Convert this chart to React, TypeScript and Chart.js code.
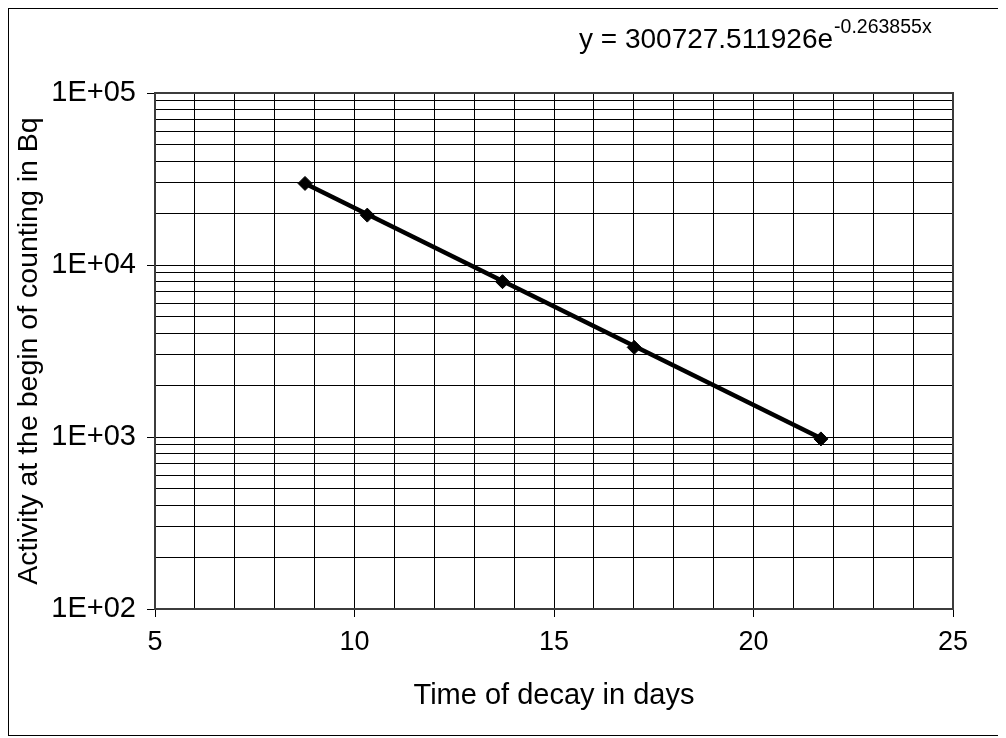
import React, { useEffect, useRef } from "react";
import { Chart, registerables } from "chart.js";

Chart.register(...registerables);

// ---- data ----
const decayDays = [8.76, 10.32, 13.71, 17.01, 21.69];
const activityBq = [29800, 19500, 8000, 3320, 975];

// trendline end points (exponential fit shown on the chart)
const trendDays = [8.76, 21.69];
const trendBq = [29810, 984];

// axes
const xMin = 5;
const xMax = 25;
const xGridValues = [5, 6, 7, 8, 9, 10, 11, 12, 13, 14, 15, 16, 17, 18, 19, 20, 21, 22, 23, 24, 25];
const xLabelValues = [5, 10, 15, 20, 25];
const yDecades = [100, 1000, 10000, 100000];
const yDecadeLabels = ["1E+02", "1E+03", "1E+04", "1E+05"];
const yMultipliers = [1, 2, 3, 4, 5, 6, 7, 8, 9];

// texts
const xTitle = "Time of decay in days";
const yTitle = "Activity at the begin of counting in Bq";
const equationMain = "y = 300727.511926e";
const equationExp = "-0.263855x";

const FONT = 'Arial, "Liberation Sans", sans-serif';

function buildYTicks() {
  const out: { value: number; major: boolean }[] = [];
  for (let d = 0; d < yDecades.length; d++) {
    for (const m of yMultipliers) {
      const v = yDecades[d] * m;
      if (v > yDecades[yDecades.length - 1]) break;
      out.push({ value: v, major: m === 1 });
    }
  }
  return out;
}

const framePlugin = {
  id: "frame",
  beforeDatasetsDraw(chart: any) {
    const { ctx, chartArea } = chart;
    ctx.save();
    ctx.strokeStyle = "#3c3c3c";
    ctx.lineWidth = 2;
    ctx.strokeRect(chartArea.left, chartArea.top, chartArea.right - chartArea.left, chartArea.bottom - chartArea.top);
    ctx.restore();
  },
};

const equationPlugin = {
  id: "equation",
  afterDraw(chart: any) {
    const { ctx } = chart;
    ctx.save();
    ctx.fillStyle = "#000";
    ctx.textBaseline = "alphabetic";
    ctx.textAlign = "left";
    ctx.font = `28px ${FONT}`;
    const x0 = 570;
    const y0 = 39;
    ctx.fillText(equationMain, x0, y0);
    const w = ctx.measureText(equationMain).width;
    ctx.font = `19.5px ${FONT}`;
    ctx.fillText(equationExp, x0 + w + 1, y0 - 15);
    ctx.restore();
  },
};

export default function App() {
  const canvasRef = useRef<HTMLCanvasElement | null>(null);

  useEffect(() => {
    if (!canvasRef.current) return;
    const yTicks = buildYTicks();
    const chart = new Chart(canvasRef.current, {
      type: "scatter",
      data: {
        datasets: [
          {
            type: "scatter",
            label: "Activity",
            data: decayDays.map((x, i) => ({ x, y: activityBq[i] })),
            pointStyle: "rectRot",
            pointRadius: 7,
            pointBackgroundColor: "#000",
            pointBorderColor: "#000",
            showLine: false,
            order: 0,
          },
          {
            type: "line",
            label: "Trend",
            data: trendDays.map((x, i) => ({ x, y: trendBq[i] })),
            borderColor: "#000",
            borderWidth: 4.5,
            pointRadius: 0,
            fill: false,
            order: 1,
          } as any,
        ],
      },
      options: {
        animation: false,
        responsive: true,
        maintainAspectRatio: false,
        layout: { padding: { left: 0, top: 84, right: 50, bottom: 0 } },
        plugins: {
          legend: { display: false },
          tooltip: { enabled: false },
        },
        scales: {
          x: {
            type: "linear",
            min: xMin,
            max: xMax,
            afterFit: (scale: any) => {
              scale.height = 126;
            },
            afterBuildTicks: (scale: any) => {
              scale.ticks = xGridValues.map((v) => ({ value: v }));
            },
            ticks: {
              autoSkip: false,
              maxRotation: 0,
              padding: 9,
              color: "#000",
              font: { family: FONT, size: 27 },
              callback: (v: any) => (xLabelValues.includes(Number(v)) ? String(v) : ""),
            },
            grid: {
              color: "#000",
              lineWidth: 1,
              drawTicks: true,
              tickLength: 8,
              tickColor: (ctx: any) =>
                ctx.tick && xLabelValues.includes(ctx.tick.value) ? "#000" : "rgba(0,0,0,0)",
            },
            border: { display: false },
            title: {
              display: true,
              text: xTitle,
              color: "#000",
              font: { family: FONT, size: 29 },
              padding: { top: 0, bottom: 22 },
            },
          },
          y: {
            type: "logarithmic",
            min: yDecades[0],
            max: yDecades[yDecades.length - 1],
            afterFit: (scale: any) => {
              scale.width = 146;
            },
            afterBuildTicks: (scale: any) => {
              scale.ticks = yTicks.map((t) => ({ ...t }));
            },
            ticks: {
              autoSkip: false,
              padding: 11,
              color: "#000",
              font: { family: FONT, size: 29 },
              callback: (v: any) => {
                const idx = yDecades.indexOf(Number(v));
                return idx >= 0 ? yDecadeLabels[idx] : "";
              },
            },
            grid: {
              color: "#000",
              lineWidth: 1,
              drawTicks: true,
              tickLength: 8,
              tickColor: (ctx: any) =>
                ctx.tick && yDecades.includes(ctx.tick.value) ? "#000" : "rgba(0,0,0,0)",
            },
            border: { display: false },
            title: {
              display: true,
              text: yTitle,
              color: "#000",
              font: { family: FONT, size: 28.5 },
              padding: { top: 3, bottom: 0 },
            },
          },
        },
      },
      plugins: [framePlugin, equationPlugin],
    });
    return () => chart.destroy();
  }, []);

  return (
    <div
      style={{
        width: 994,
        height: 726,
        border: "1px solid #000",
        position: "relative",
        background: "#fff",
      }}
    >
      <canvas ref={canvasRef} />
    </div>
  );
}
